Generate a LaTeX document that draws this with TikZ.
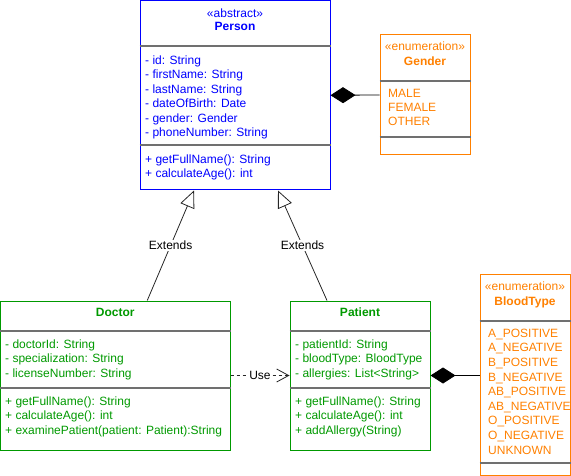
\documentclass[tikz,border=0pt]{standalone}
\usepackage{fontspec}
\setmainfont{Liberation Sans}
\usepackage{tikz}
\usetikzlibrary{arrows.meta}

\definecolor{umlblue}{RGB}{0,0,255}
\definecolor{umlgreen}{RGB}{0,153,0}
\definecolor{umlorange}{RGB}{255,128,0}
\definecolor{sepgray}{RGB}{112,112,112}

\begin{document}
\begin{tikzpicture}[x=1pt,y=-1pt,
    font=\fontsize{12}{14.4}\selectfont,
    classbox/.style={draw=#1, line width=1pt, rectangle, inner sep=0pt},
    members/.style={text=#1, align=left, anchor=north west, inner sep=0pt},
    title/.style={text=#1, anchor=base, inner sep=0pt},
    sepline/.style={draw=sepgray, line width=1.5pt},
    link/.style={draw=black!85, line width=0.8pt},
    tag/.style={fill=white, inner sep=1pt, text=black}]
      \useasboundingbox (0,0) rectangle (571,476);

      % Person
      \node (person) at (235,95.25) [classbox=umlblue, minimum width=190pt, minimum height=189.5pt] {};
      \node (person-stereo) at (235,17.3) [title=umlblue] {«abstract»};
      \node (person-name) at (235,30.3) [title=umlblue] {\textbf{Person}};
      \draw[sepline] (person.west |- 0,46) to (person.east |- 0,46);
      \node (person-attrs) at (145,55.7) [members=umlblue]
      {- id: String\\- firstName: String\\- lastName: String\\- dateOfBirth: Date\\
       - gender: Gender\\- phoneNumber: String};
      \draw[sepline] (person.west |- 0,145) to (person.east |- 0,145);
      \node (person-ops) at (145,154.2) [members=umlblue]
      {+ getFullName(): String\\+ calculateAge(): int};

      % Gender
      \node (gender) at (425,95) [classbox=umlorange, minimum width=90pt, minimum height=120pt] {};
      \node (gender-stereo) at (425,50.3) [title=umlorange] {«enumeration»};
      \node (gender-name) at (425,65.3) [title=umlorange] {\textbf{Gender}};
      \draw[sepline] (gender.west |- 0,81) to (gender.east |- 0,81);
      \node (gender-vals) at (388,88.7) [members=umlorange] {MALE\\FEMALE\\OTHER};
      \draw[sepline] (gender.west |- 0,137) to (gender.east |- 0,137);

      % Doctor
      \node (doctor) at (115.25,375.5) [classbox=umlgreen, minimum width=229.5pt, minimum height=149pt] {};
      \node (doctor-name) at (115.25,316.3) [title=umlgreen] {\textbf{Doctor}};
      \draw[sepline] (doctor.west |- 0,331) to (doctor.east |- 0,331);
      \node (doctor-attrs) at (5,339.7) [members=umlgreen]
      {- doctorId: String\\- specialization: String\\- licenseNumber: String};
      \draw[sepline] (doctor.west |- 0,388) to (doctor.east |- 0,388);
      \node (doctor-ops) at (5,396.7) [members=umlgreen]
      {+ getFullName(): String\\+ calculateAge(): int\\+ examinePatient(patient: Patient):String};

      % Patient
      \node (patient) at (360,375.5) [classbox=umlgreen, minimum width=140pt, minimum height=149pt] {};
      \node (patient-name) at (360,316.3) [title=umlgreen] {\textbf{Patient}};
      \draw[sepline] (patient.west |- 0,331) to (patient.east |- 0,331);
      \node (patient-attrs) at (295,339.7) [members=umlgreen]
      {- patientId: String\\- bloodType: BloodType\\- allergies: List<String>};
      \draw[sepline] (patient.west |- 0,388) to (patient.east |- 0,388);
      \node (patient-ops) at (295,396.7) [members=umlgreen]
      {+ getFullName(): String\\+ calculateAge(): int\\+ addAllergy(String)};

      % BloodType
      \node (bloodtype) at (525,375) [classbox=umlorange, minimum width=90pt, minimum height=200pt] {};
      \node (bloodtype-stereo) at (525,290.3) [title=umlorange] {«enumeration»};
      \node (bloodtype-name) at (525,305.3) [title=umlorange] {\textbf{BloodType}};
      \draw[sepline] (bloodtype.west |- 0,321) to (bloodtype.east |- 0,321);
      \node (bloodtype-vals) at (488,328.7) [members=umlorange, font=\fontsize{12}{14.6}\selectfont]
      {A\_POSITIVE\\A\_NEGATIVE\\B\_POSITIVE\\B\_NEGATIVE\\AB\_POSITIVE\\AB\_NEGATIVE\\
       O\_POSITIVE\\O\_NEGATIVE\\UNKNOWN};
      \draw[sepline] (bloodtype.west |- 0,463) to (bloodtype.east |- 0,463);

      % relations
      \draw[link, -{Triangle[open,length=17pt,width=15pt]}]
      ([xshift=32pt]doctor.north) to node[tag] {Extends} ([xshift=-41pt]person.south);
      \draw[link, -{Triangle[open,length=17pt,width=15pt]}]
      ([xshift=-33pt]patient.north) to node[tag] {Extends} ([xshift=43pt]person.south);
      \draw[link, dash pattern=on 3pt off 3pt, -{Straight Barb[length=12pt,width=13pt]}]
      (doctor.east) to node[tag] {Use} (patient.west);
      \draw[link, draw=black, {Diamond[length=25pt,width=16pt]}-]
      (person.east) to (gender.west);
      \draw[link, draw=black, {Diamond[length=25pt,width=16pt]}-]
      (patient.east) to (patient.east -| bloodtype.west);
\end{tikzpicture}
\end{document}
